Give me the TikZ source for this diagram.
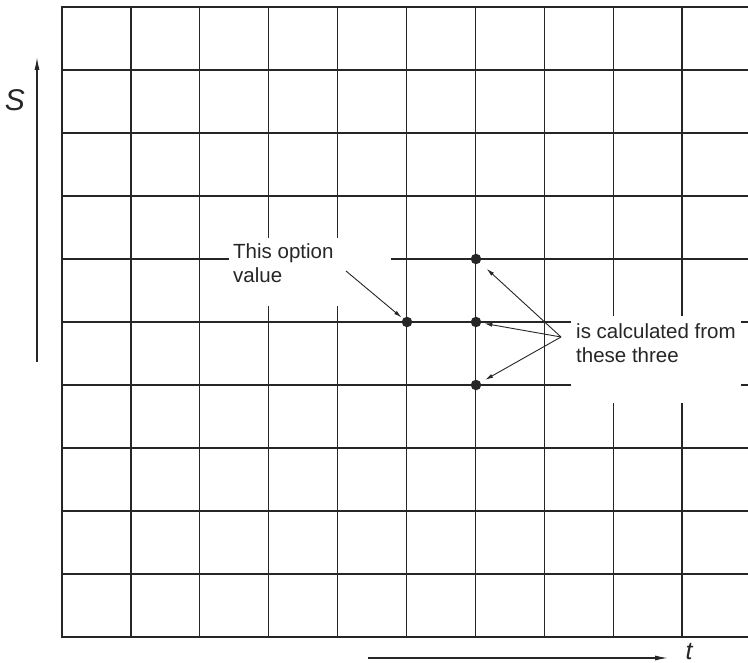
\documentclass[tikz,border=0pt]{standalone}
\usepackage{fontspec}
\setmainfont{Liberation Sans}
\usetikzlibrary{arrows.meta}
\definecolor{ink}{HTML}{262626}
\begin{document}
\begin{tikzpicture}[x=1pt,y=-1pt,
  gridline/.style={line width=1.3pt, draw=ink},
  borderline/.style={line width=1.9pt, draw=ink, line cap=rect},
  whitebox/.style={fill=white, draw=none, inner sep=0pt, anchor=north west},
  labeltext/.style={font=\fontsize{20.5}{24.5}\selectfont, text=ink, align=left, inner sep=0pt, anchor=north west},
  gpoint/.style={circle, fill=ink, inner sep=0pt, minimum size=10.5pt},
  pointer/.style={draw=ink, line width=0.9pt, -{Latex[length=8pt,width=4pt]}},
  axisarrow/.style={draw=ink, line width=1.2pt, -{Latex[length=13pt,width=5pt]}},
  axislabel/.style={text=ink, anchor=base, inner sep=0pt},
]
\useasboundingbox (0,0) rectangle (748,663);
% grid
\foreach \k in {1,...,9} \draw[gridline] ({62+68.9*\k},7) -- ({62+68.9*\k},637);
\foreach \j in {1,...,9} \draw[gridline] (62,{7+63*\j}) -- (748,{7+63*\j});
\draw[borderline] (748,7) -- (62,7) -- (62,637) -- (748,637);
% white label areas
\node[whitebox, minimum width=162pt, minimum height=68pt] (box1) at (229,238) {};
\node[whitebox, minimum width=170pt, minimum height=87pt] (box2) at (571,316) {};
% labels
\node[labeltext] (lab1) at (233,243.2) {This option\\value};
\node[labeltext] (lab2) at (576,323.2) {is calculated from\\these three};
% points
\node[gpoint] (d0) at (407,322) {};
\node[gpoint] (d1) at (476,259) {};
\node[gpoint] (d2) at (476,322) {};
\node[gpoint] (d3) at (476,385) {};
% pointers
\coordinate (c1) at (346,271);
\coordinate (c2) at (561,337);
\draw[pointer, shorten >=1.5pt] (c1) -- (d0);
\draw[pointer, shorten >=9pt] (c2) -- (d1);
\draw[pointer, shorten >=3pt] (c2) -- (d2);
\draw[pointer, shorten >=5pt] (c2) -- (d3);
% axes
\coordinate (sA) at (37,362);
\coordinate (sB) at (37,57);
\draw[axisarrow] (sA) -- (sB);
\node[axislabel, font=\fontsize{30}{32}\selectfont\itshape] (Slab) at (15,111) {S};
\coordinate (tA) at (368,658);
\coordinate (tB) at (668,658);
\draw[axisarrow] (tA) -- (tB);
\node[axislabel, font=\fontsize{25}{28}\selectfont\itshape] (tlab) at (689,659) {t};
\end{tikzpicture}
\end{document}
